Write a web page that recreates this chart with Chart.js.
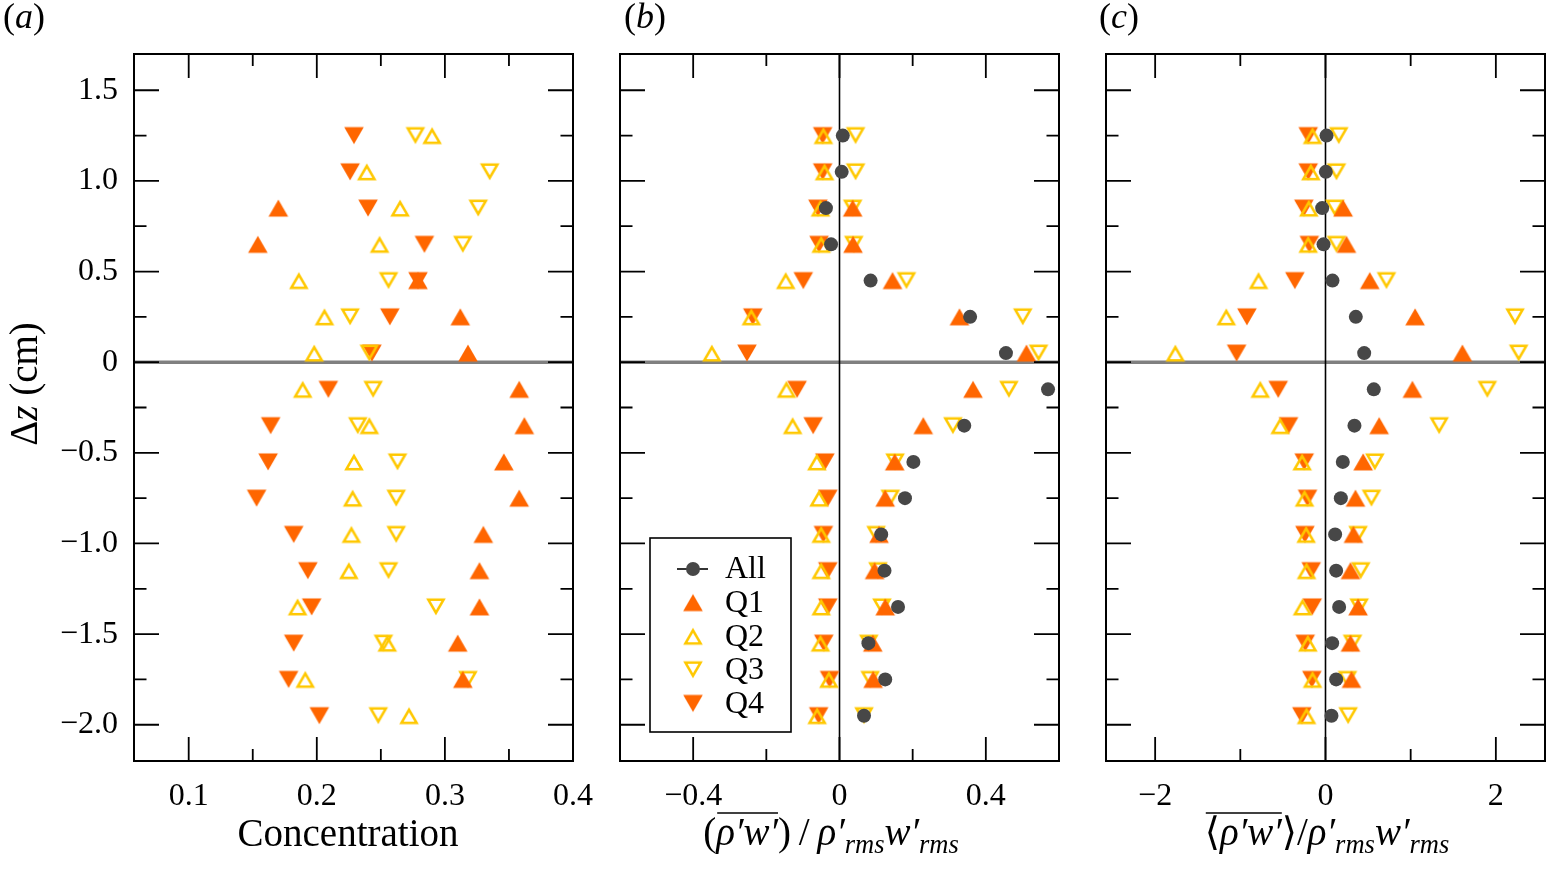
<!DOCTYPE html>
<html>
<head>
<meta charset="utf-8">
<script src="https://cdn.jsdelivr.net/npm/chart.js@4.4.1/dist/chart.umd.min.js"></script>
<style>
  html, body { margin: 0; padding: 0; background: #fff; overflow: hidden; }
  #wrap { position: relative; width: 1547px; height: 869px; overflow: hidden; }
  #wrap canvas { position: absolute; left: 0; top: 0; }
</style>
</head>
<body>
<div id="wrap">
  <canvas id="panelA" width="1600" height="869"></canvas>
  <canvas id="panelB" width="1600" height="869"></canvas>
  <canvas id="panelC" width="1600" height="869"></canvas>
</div>
<script>
// depth levels (cm), shared by all three panels
const zLevels = [1.25, 1.05, 0.85, 0.65, 0.45, 0.25, 0.05, -0.15, -0.35, -0.55,
                 -0.75, -0.95, -1.15, -1.35, -1.55, -1.75, -1.95];

// (a) concentration of each quadrant
const concQ1 = [null, null, 0.170, 0.154, 0.279, 0.312, 0.318, 0.358, 0.362, 0.346,
                0.358, 0.330, 0.327, 0.327, 0.310, 0.314, null];
const concQ2 = [0.290, 0.239, 0.265, 0.249, 0.186, 0.206, 0.198, 0.189, 0.241, 0.229,
                0.228, 0.227, 0.225, 0.185, 0.255, 0.191, 0.272];
const concQ3 = [0.277, 0.335, 0.326, 0.314, 0.256, 0.226, 0.241, 0.244, 0.232, 0.263,
                0.262, 0.262, 0.256, 0.293, 0.252, 0.318, 0.248];
const concQ4 = [0.229, 0.226, 0.240, 0.284, 0.279, 0.257, 0.243, 0.209, 0.164, 0.162,
                0.153, 0.182, 0.193, 0.196, 0.182, 0.178, 0.202];

// (b) flux / rho'rms w'rms
const fluxAll = [0.009, 0.006, -0.037, -0.023, 0.085, 0.357, 0.455, 0.570, 0.341, 0.202,
                 0.179, 0.114, 0.123, 0.160, 0.079, 0.125, 0.067];
const fluxQ1 = [null, null, 0.036, 0.037, 0.145, 0.328, 0.511, 0.365, 0.229, 0.151,
                0.125, 0.108, 0.096, 0.125, 0.091, 0.092, null];
const fluxQ2 = [-0.044, -0.041, -0.052, -0.050, -0.147, -0.241, -0.349, -0.145, -0.128, -0.062,
                -0.056, -0.050, -0.050, -0.050, -0.052, -0.029, -0.061];
const fluxQ3 = [0.044, 0.044, 0.036, 0.039, 0.183, 0.501, 0.544, 0.463, 0.310, 0.152,
                0.139, 0.100, 0.105, 0.116, 0.080, 0.084, 0.067];
const fluxQ4 = [-0.046, -0.046, -0.059, -0.056, -0.099, -0.237, -0.253, -0.116, -0.072, -0.040,
                -0.032, -0.044, -0.032, -0.032, -0.043, -0.027, -0.057];

// (c) conditional flux / rho'rms w'rms
const condAll = [0.012, 0.004, -0.039, -0.023, 0.082, 0.356, 0.454, 0.567, 0.340, 0.203,
                 0.180, 0.113, 0.125, 0.160, 0.078, 0.125, 0.070];
const condQ1 = [null, null, 0.207, 0.246, 0.520, 1.052, 1.607, 1.020, 0.630, 0.442,
                0.352, 0.328, 0.293, 0.383, 0.293, 0.305, null];
const condQ2 = [-0.152, -0.172, -0.196, -0.203, -0.786, -1.165, -1.763, -0.766, -0.532, -0.274,
                -0.246, -0.227, -0.223, -0.270, -0.207, -0.152, -0.223];
const condQ3 = [0.156, 0.129, 0.109, 0.129, 0.716, 2.225, 2.268, 1.900, 1.334, 0.579,
                0.540, 0.383, 0.414, 0.395, 0.317, 0.258, 0.266];
const condQ4 = [-0.203, -0.203, -0.254, -0.190, -0.360, -0.923, -1.044, -0.555, -0.434, -0.250,
                -0.211, -0.242, -0.168, -0.156, -0.238, -0.160, -0.278];

// ticks
const yTicks = [-2.0, -1.5, -1.0, -0.5, 0, 0.5, 1.0, 1.5];
const yTickLabels = ["\u22122.0", "\u22121.5", "\u22121.0", "\u22120.5", "0", "0.5", "1.0", "1.5"];
const yMinorTicks = [-1.75, -1.25, -0.75, -0.25, 0.25, 0.75, 1.25];

const concTicks = [0.1, 0.2, 0.3, 0.4];
const concTickLabels = ["0.1", "0.2", "0.3", "0.4"];
const concMinorTicks = [0.15, 0.25, 0.35];

const fluxTicks = [-0.4, 0, 0.4];
const fluxTickLabels = ["\u22120.4", "0", "0.4"];
const fluxMinorTicks = [-0.2, 0.2];

const condTicks = [-2, 0, 2];
const condTickLabels = ["\u22122", "0", "2"];
const condMinorTicks = [-1, 1];

const ORANGE = "#ff6600";
const GOLD = "#ffc800";
const GREY = "#474747";
const SERIF = "'Liberation Serif', 'Times New Roman', 'DejaVu Serif', serif";
const CANVAS_W = 1600;

// triangle markers whose bounding box is centred on the data point
function triangleImage(up, filled, color) {
  const c = document.createElement("canvas");
  c.width = 24;
  c.height = 22;
  const g = c.getContext("2d");
  const cx = 12, cy = 11, H = 17;
  const lw = filled ? 0 : 2.6;
  const h = H - 1.5 * lw;
  const w = h * 2 / Math.sqrt(3);
  let apexY, baseY;
  if (up) {
    apexY = cy - H / 2 + lw;
    baseY = apexY + h;
  } else {
    baseY = cy - H / 2 + lw / 2;
    apexY = baseY + h;
  }
  g.beginPath();
  g.moveTo(cx, apexY);
  g.lineTo(cx + w / 2, baseY);
  g.lineTo(cx - w / 2, baseY);
  g.closePath();
  if (filled) {
    g.fillStyle = color;
    g.fill();
  } else {
    g.lineJoin = "miter";
    g.lineWidth = lw;
    g.strokeStyle = color;
    g.stroke();
  }
  return c;
}

const styles = {
  All: { pointStyle: "circle", pointRadius: 7, backgroundColor: GREY, borderColor: GREY },
  Q1: { pointStyle: triangleImage(true, true, ORANGE), pointRadius: 10, backgroundColor: ORANGE, borderColor: ORANGE },
  Q2: { pointStyle: triangleImage(true, false, GOLD), pointRadius: 10, backgroundColor: GOLD, borderColor: GOLD },
  Q3: { pointStyle: triangleImage(false, false, GOLD), pointRadius: 10, backgroundColor: GOLD, borderColor: GOLD },
  Q4: { pointStyle: triangleImage(false, true, ORANGE), pointRadius: 10, backgroundColor: ORANGE, borderColor: ORANGE },
};

function series(name, values) {
  const pts = [];
  values.forEach((v, i) => { if (v !== null) pts.push({ x: v, y: zLevels[i] }); });
  const s = styles[name];
  return {
    label: name,
    data: pts,
    pointStyle: s.pointStyle,
    pointRadius: s.pointRadius,
    pointHoverRadius: s.pointRadius,
    backgroundColor: s.backgroundColor,
    borderColor: s.borderColor,
    pointBorderWidth: 0,
    showLine: false,
  };
}

// text made of upright / italic / subscript runs
function drawRuns(ctx, runs, cx, baseY, size, overline) {
  const items = runs.map(([t, italic, sub]) => {
    const fs = sub ? size * 0.68 : size;
    const font = (italic ? "italic " : "") + fs + "px " + SERIF;
    ctx.font = font;
    return { t, font, w: ctx.measureText(t).width, dy: sub ? size * 0.2 : 0 };
  });
  const total = items.reduce((s, it) => s + it.w, 0);
  let x = cx - total / 2;
  const xs = [];
  ctx.fillStyle = "#000";
  ctx.textAlign = "left";
  ctx.textBaseline = "alphabetic";
  items.forEach((it) => {
    xs.push(x);
    ctx.font = it.font;
    ctx.fillText(it.t, x, baseY + it.dy);
    x += it.w;
  });
  if (overline) {
    const [a, b] = overline;
    const oy = baseY - size * 0.82;
    ctx.strokeStyle = "#000";
    ctx.lineWidth = 1.6;
    ctx.beginPath();
    ctx.moveTo(xs[a] + 1, oy);
    ctx.lineTo(xs[b] + items[b].w, oy);
    ctx.stroke();
  }
}

const framePlugin = {
  id: "frame",
  beforeDatasetsDraw(chart, args, o) {
    const { ctx, chartArea: a, scales: { x, y } } = chart;
    ctx.save();
    ctx.beginPath();
    ctx.rect(a.left, a.top, a.width, a.height);
    ctx.clip();
    const y0 = y.getPixelForValue(0);
    ctx.strokeStyle = "#808080";
    ctx.lineWidth = 3.4;
    ctx.beginPath();
    ctx.moveTo(a.left, y0);
    ctx.lineTo(a.right, y0);
    ctx.stroke();
    if (o.xZero) {
      const x0 = x.getPixelForValue(0);
      ctx.strokeStyle = "#000";
      ctx.lineWidth = 1.6;
      ctx.beginPath();
      ctx.moveTo(x0, a.top);
      ctx.lineTo(x0, a.bottom);
      ctx.stroke();
    }
    ctx.restore();
  },
  afterDatasetsDraw(chart, args, o) {
    const { ctx, chartArea: a, scales: { x, y } } = chart;
    ctx.save();
    ctx.strokeStyle = "#000";
    ctx.lineWidth = 1.8;
    ctx.beginPath();
    const tickX = (vals, len) => vals.forEach((v) => {
      const px = x.getPixelForValue(v);
      ctx.moveTo(px, a.bottom); ctx.lineTo(px, a.bottom - len);
      ctx.moveTo(px, a.top); ctx.lineTo(px, a.top + len);
    });
    const tickY = (vals, len) => vals.forEach((v) => {
      const py = y.getPixelForValue(v);
      ctx.moveTo(a.left, py); ctx.lineTo(a.left + len, py);
      ctx.moveTo(a.right, py); ctx.lineTo(a.right - len, py);
    });
    tickX(o.xMajor, 24);
    tickX(o.xMinor, 12);
    tickY(yTicks, 25);
    tickY(yMinorTicks, 12.5);
    ctx.stroke();
    ctx.lineWidth = 2;
    ctx.strokeRect(a.left, a.top, a.width, a.height);
    ctx.restore();
  },
  afterDraw(chart, args, o) {
    const { ctx, chartArea: a } = chart;
    ctx.save();
    // panel letter
    drawRuns(ctx, [["(", 0, 0], [o.letter, 1, 0], [")", 0, 0]], o.letterX, 28, 36);
    // x title
    drawRuns(ctx, o.xTitle, o.xTitleX, o.xTitleY, 39, o.overline);
    // y title
    if (o.yTitle) {
      ctx.save();
      ctx.translate(37, 384);
      ctx.rotate(-Math.PI / 2);
      drawRuns(ctx, [["\u0394", 0, 0], ["z", 1, 0], [" (cm)", 0, 0]], 0, 0, 39);
      ctx.restore();
    }
    // legend
    if (o.legend) {
      const lx = a.left + 30, ly = a.top + 484, lw = 141, lh = 194;
      ctx.fillStyle = "#fff";
      ctx.fillRect(lx, ly, lw, lh);
      ctx.strokeStyle = "#000";
      ctx.lineWidth = 1.6;
      ctx.strokeRect(lx, ly, lw, lh);
      chart.data.datasets.forEach((ds, i) => {
        const cy = ly + 31 + i * 33.6;
        const mx = lx + 43;
        if (ds.pointStyle === "circle") {
          ctx.strokeStyle = "#000";
          ctx.lineWidth = 1.6;
          ctx.beginPath();
          ctx.moveTo(mx - 16, cy);
          ctx.lineTo(mx + 15, cy);
          ctx.stroke();
        }
        ctx.fillStyle = ds.backgroundColor;
        ctx.strokeStyle = ds.borderColor;
        ctx.lineWidth = 0;
        Chart.helpers.drawPoint(ctx, {
          pointStyle: ds.pointStyle, rotation: 0,
          radius: ds.pointRadius, borderWidth: 0,
        }, mx, cy);
        ctx.fillStyle = "#000";
        ctx.font = "32px " + SERIF;
        ctx.textAlign = "left";
        ctx.textBaseline = "middle";
        ctx.fillText(ds.label, lx + 75, cy + 1);
      });
    }
    ctx.restore();
  },
};

function makePanel(id, p) {
  return new Chart(document.getElementById(id), {
    type: "scatter",
    data: { datasets: p.datasets },
    options: {
      responsive: false,
      animation: false,
      events: [],
      layout: { padding: { left: p.padLeft, right: CANVAS_W - p.right, top: 54, bottom: 0 } },
      plugins: {
        legend: { display: false },
        tooltip: { enabled: false },
        frame: p.frame,
      },
      scales: {
        x: {
          type: "linear",
          position: "bottom",
          min: p.xMin,
          max: p.xMax,
          afterBuildTicks: (s) => { s.ticks = p.xTicks.map((v) => ({ value: v })); },
          afterFit: (s) => { s.height = 108; },
          ticks: {
            autoSkip: false, maxRotation: 0, padding: 16, color: "#000",
            font: { family: SERIF, size: 32 },
            callback: (v, i) => p.xLabels[i],
          },
          grid: { display: false, drawTicks: false },
          border: { display: false },
        },
        y: {
          type: "linear",
          position: "left",
          min: -2.2,
          max: 1.7,
          afterBuildTicks: (s) => { s.ticks = yTicks.map((v) => ({ value: v })); },
          afterFit: (s) => { s.width = p.yWidth; },
          ticks: {
            display: p.yLabels, autoSkip: false, padding: 16, color: "#000",
            font: { family: SERIF, size: 32 },
            callback: (v, i) => yTickLabels[i],
          },
          grid: { display: false, drawTicks: false },
          border: { display: false },
        },
      },
    },
    plugins: [framePlugin],
  });
}

makePanel("panelA", {
  datasets: [series("Q1", concQ1), series("Q2", concQ2), series("Q3", concQ3), series("Q4", concQ4)],
  padLeft: 0, right: 573, yWidth: 134, yLabels: true,
  xMin: 0.0573, xMax: 0.4, xTicks: concTicks, xLabels: concTickLabels,
  frame: {
    xMajor: concTicks, xMinor: concMinorTicks, xZero: false,
    letter: "a", letterX: 24, yTitle: true,
    xTitle: [["Concentration", 0, 0]], xTitleX: 348, xTitleY: 846,
  },
});

makePanel("panelB", {
  datasets: [series("All", fluxAll), series("Q1", fluxQ1), series("Q2", fluxQ2),
             series("Q3", fluxQ3), series("Q4", fluxQ4)],
  padLeft: 590, right: 1059, yWidth: 30, yLabels: false,
  xMin: -0.6, xMax: 0.6, xTicks: fluxTicks, xLabels: fluxTickLabels,
  frame: {
    xMajor: fluxTicks, xMinor: fluxMinorTicks, xZero: true,
    letter: "b", letterX: 645, yTitle: false, legend: true,
    xTitle: [["(", 0, 0], ["\u03c1\u2032", 1, 0], ["w\u2032", 1, 0], [")", 0, 0], ["\u2009/\u2009", 0, 0],
             ["\u03c1\u2032", 1, 0], ["rms", 1, 1], ["w\u2032", 1, 0], ["rms", 1, 1]],
    overline: [1, 2], xTitleX: 831, xTitleY: 845,
  },
});

makePanel("panelC", {
  datasets: [series("All", condAll), series("Q1", condQ1), series("Q2", condQ2),
             series("Q3", condQ3), series("Q4", condQ4)],
  padLeft: 1070, right: 1545, yWidth: 36, yLabels: false,
  xMin: -2.577, xMax: 2.577, xTicks: condTicks, xLabels: condTickLabels,
  frame: {
    xMajor: condTicks, xMinor: condMinorTicks, xZero: true,
    letter: "c", letterX: 1119, yTitle: false,
    xTitle: [["\u27e8", 0, 0], ["\u03c1\u2032", 1, 0], ["w\u2032", 1, 0], ["\u27e9", 0, 0], ["/", 0, 0],
             ["\u03c1\u2032", 1, 0], ["rms", 1, 1], ["w\u2032", 1, 0], ["rms", 1, 1]],
    overline: [0, 2], xTitleX: 1327, xTitleY: 845,
  },
});
</script>
</body>
</html>
